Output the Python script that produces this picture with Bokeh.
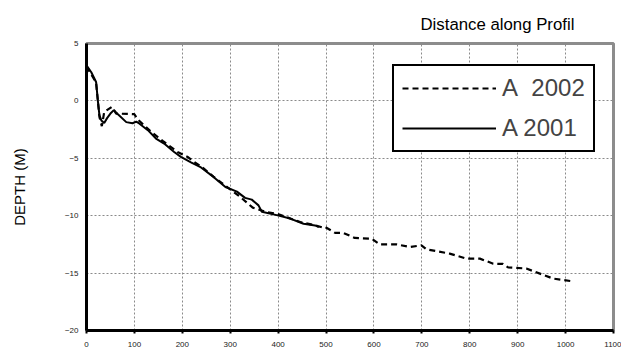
from bokeh.plotting import figure
from bokeh.models import FixedTicker, Legend, LegendItem, Title, Range1d
from bokeh.embed import file_html
from bokeh.resources import INLINE

# A 2001 (solid)
dist_2001 = [0, 10, 20, 24, 27, 31, 37, 43, 51, 57, 65, 83, 96, 104, 110, 128, 145, 162,
             183, 197, 218, 239, 265, 290, 314, 331, 345, 359, 366, 397, 425, 453, 477, 485]
depth_2001 = [3.1, 2.5, 1.65, -0.1, -1.25, -1.7, -1.92, -1.5, -1.05, -0.8, -1.15, -1.85, -1.95,
              -1.8, -1.97, -2.55, -3.28, -3.72, -4.45, -4.88, -5.35, -5.8, -6.62, -7.5, -7.9,
              -8.45, -8.6, -9.1, -9.65, -9.95, -10.25, -10.7, -10.85, -11.0]

# A 2002 (dashed)
dist_2002 = [0, 20, 27, 32, 37, 53, 62, 100, 107, 135, 159, 190, 211, 225, 242, 265, 307, 321,
             347, 376, 399, 446, 477, 494, 498, 519, 536, 560, 595, 612, 647, 675, 699, 710,
             758, 793, 821, 849, 869, 880, 918, 974, 1012]
depth_2002 = [3.0, 1.6, -1.4, -2.2, -0.96, -0.52, -1.1, -1.16, -1.62, -2.7, -3.49, -4.45, -4.88,
              -5.32, -5.8, -6.6, -7.93, -8.37, -9.3, -9.68, -9.85, -10.55, -10.84, -11.04, -10.98,
              -11.5, -11.5, -11.94, -12.0, -12.5, -12.5, -12.73, -12.58, -12.93, -13.3, -13.74,
              -13.74, -14.18, -14.2, -14.5, -14.6, -15.48, -15.7]

x_ticks = list(range(0, 1101, 100))
y_ticks = [-20, -15, -10, -5, 0, 5]
series_labels = ["A\u00a0 2002", "A 2001"]

FONT = "Liberation Sans"

p = figure(width=621, height=353, output_backend="svg", toolbar_location=None,
           x_range=Range1d(0, 1100), y_range=Range1d(-20, 5),
           min_border_left=86, min_border_right=8, min_border_top=43, min_border_bottom=23)
p.background_fill_color = "white"
p.border_fill_color = "white"
p.outline_line_color = "#8c8c8c"
p.outline_line_width = 3

for g in (p.xgrid[0], p.ygrid[0]):
    g.grid_line_color = "#8a8a8a"
    g.grid_line_dash = "2 2"
    g.grid_line_width = 1

p.xaxis.ticker = FixedTicker(ticks=x_ticks)
p.yaxis.ticker = FixedTicker(ticks=y_ticks)
p.xgrid.ticker = FixedTicker(ticks=x_ticks)
p.ygrid.ticker = FixedTicker(ticks=y_ticks)

for ax in (p.xaxis[0], p.yaxis[0]):
    ax.axis_line_color = "black"
    ax.axis_line_width = 3
    ax.minor_tick_line_color = None
    ax.major_label_text_font = FONT
    ax.major_label_text_font_size = "8px"
    ax.major_label_text_color = "#222222"

p.xaxis.major_tick_in = 0
p.xaxis.major_tick_out = 3
p.xaxis.major_tick_line_width = 2
p.xaxis.major_tick_line_color = "black"
p.xaxis.major_label_standoff = 8

p.yaxis.major_tick_in = 0
p.yaxis.major_tick_out = 0
p.yaxis.major_label_standoff = 8
p.yaxis.axis_label = "DEPTH (M)"
p.yaxis.axis_label_text_font = FONT
p.yaxis.axis_label_text_font_size = "15px"
p.yaxis.axis_label_text_font_style = "normal"
p.yaxis.axis_label_text_color = "black"
p.yaxis.axis_label_standoff = 34

title = Title(text="Distance along Profil", align="left", offset=334,
              text_font=FONT, text_font_size="16.8px", text_font_style="normal",
              text_color="black", standoff=20)
p.add_layout(title, "above")

r02 = p.line(dist_2002, depth_2002, line_color="black", line_width=2.2, line_dash="6 4")
r01 = p.line(dist_2001, depth_2001, line_color="black", line_width=2)

legend = Legend(items=[LegendItem(label=series_labels[0], renderers=[r02]),
                       LegendItem(label=series_labels[1], renderers=[r01])],
                location=(306, 178), margin=0, padding=8, spacing=12,
                glyph_width=94, glyph_height=20, label_standoff=6,
                label_width=80, label_height=28,
                label_text_font=FONT, label_text_font_size="24px",
                border_line_color="black", border_line_width=2, border_line_alpha=1,
                background_fill_color="white", background_fill_alpha=1)
p.add_layout(legend)

open("out.html", "w").write(file_html(p, INLINE))
